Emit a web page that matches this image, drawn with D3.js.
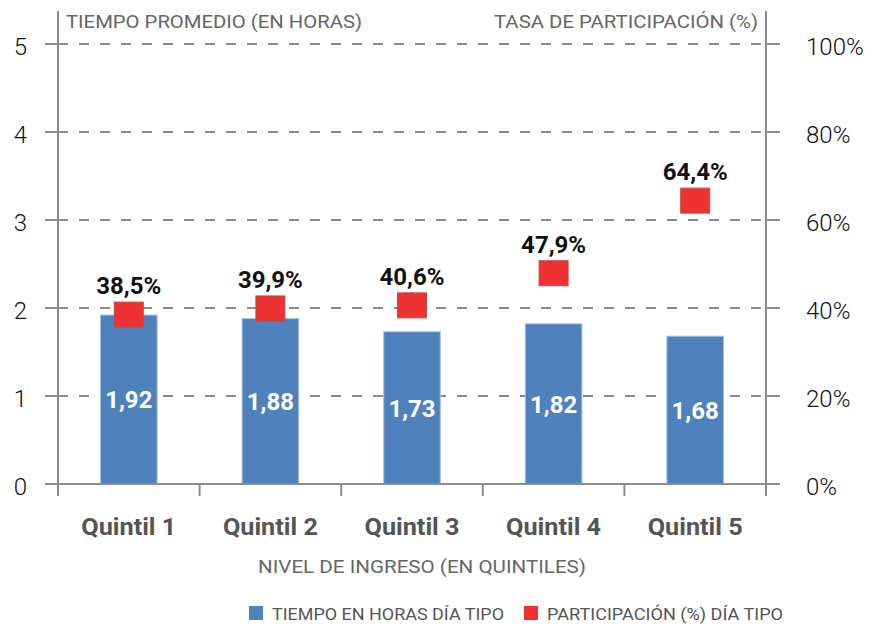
<!DOCTYPE html>
<html>
<head>
<meta charset="utf-8">
<script src="https://cdn.jsdelivr.net/npm/d3@7"></script>
<style>
  body { margin: 0; background: #fff; }
  svg { display: block; font-family: Roboto, "Open Sans", sans-serif; }
</style>
</head>
<body>
<svg id="chart" width="881" height="626"></svg>
<script>
// chart data
const quintiles = ['Quintil 1', 'Quintil 2', 'Quintil 3', 'Quintil 4', 'Quintil 5'];
const hours = [1.92, 1.88, 1.73, 1.82, 1.68];           // tiempo promedio (horas)
const participation = [0.385, 0.399, 0.406, 0.479, 0.644]; // tasa de participación
const leftTicks = [0, 1, 2, 3, 4, 5];
const rightTicks = [0, 0.2, 0.4, 0.6, 0.8, 1];

// layout
const plot = { left: 58, right: 766, top: 44, bottom: 484 };
const colors = { bar: '#4f81bd', square: '#ee3131', squareEdge: '#c24a48', grid: '#666', axis: '#8c8c8c' };

const es = d3.formatLocale({ decimal: ',', thousands: '.', grouping: [3], currency: ['', ' €'] });
const fmtHours = es.format('.2f');
const fmtPct = es.format('.1%');
const fmtTick = es.format('.0%');

const svg = d3.select('#chart');

const scales = {
  x: d3.scaleBand().domain(quintiles).range([plot.left, plot.right]).paddingInner(0.6).paddingOuter(0.3),
  yLeft: d3.scaleLinear().domain([0, 5]).range([plot.bottom, plot.top]),
  yRight: d3.scaleLinear().domain([0, 1]).range([plot.bottom, plot.top])
};

const data = quintiles.map((q, i) => ({ q, h: hours[i], p: participation[i] }));

// gridlines (behind everything)
svg.append('g')
  .selectAll('line')
  .data(leftTicks.filter(d => d > 0))
  .join('line')
  .attr('x1', plot.left).attr('x2', plot.right)
  .attr('y1', d => scales.yLeft(d)).attr('y2', d => scales.yLeft(d))
  .attr('stroke', colors.grid)
  .attr('stroke-width', 1.4)
  .attr('stroke-dasharray', '10,11');

// bars
svg.append('g')
  .selectAll('rect')
  .data(data)
  .join('rect')
  .attr('x', d => scales.x(d.q))
  .attr('y', d => scales.yLeft(d.h))
  .attr('width', scales.x.bandwidth())
  .attr('height', d => scales.yLeft(0) - scales.yLeft(d.h))
  .attr('fill', colors.bar)
  .attr('stroke', '#a9c2e2')
  .attr('stroke-width', 1);

// bar values
svg.append('g')
  .selectAll('text')
  .data(data)
  .join('text')
  .attr('x', d => scales.x(d.q) + scales.x.bandwidth() / 2)
  .attr('y', d => (scales.yLeft(d.h) + scales.yLeft(0)) / 2)
  .attr('dy', '0.36em')
  .attr('text-anchor', 'middle')
  .attr('fill', '#fff')
  .attr('font-weight', 'bold')
  .attr('font-size', 24)
  .text(d => fmtHours(d.h));

// axes
const axisG = svg.append('g').attr('stroke', colors.axis).attr('stroke-width', 2);
axisG.append('line').attr('x1', plot.left).attr('x2', plot.left).attr('y1', 11).attr('y2', plot.bottom);
axisG.append('line').attr('x1', plot.right).attr('x2', plot.right).attr('y1', 11).attr('y2', plot.bottom);
axisG.append('line').attr('x1', plot.left - 13).attr('x2', plot.right + 14).attr('y1', plot.bottom).attr('y2', plot.bottom);

// left ticks
axisG.append('g').selectAll('line')
  .data(leftTicks)
  .join('line')
  .attr('x1', plot.left - 13).attr('x2', plot.left)
  .attr('y1', d => scales.yLeft(d)).attr('y2', d => scales.yLeft(d));

// right ticks
axisG.append('g').selectAll('line')
  .data(rightTicks)
  .join('line')
  .attr('x1', plot.right).attr('x2', plot.right + 14)
  .attr('y1', d => scales.yRight(d)).attr('y2', d => scales.yRight(d));

// bottom ticks at category boundaries
const bounds = quintiles.map(q => scales.x(q) - scales.x.step() * 0.3).concat([plot.right]);
axisG.append('g').selectAll('line')
  .data(bounds)
  .join('line')
  .attr('x1', d => d).attr('x2', d => d)
  .attr('y1', plot.bottom).attr('y2', plot.bottom + 12);

// tick labels
svg.append('g')
  .selectAll('text')
  .data(leftTicks)
  .join('text')
  .attr('x', 27)
  .attr('y', d => scales.yLeft(d) + 2)
  .attr('dy', '0.36em')
  .attr('text-anchor', 'end')
  .attr('font-size', 24)
  .attr('font-weight', 300)
  .attr('fill', '#111')
  .text(d => d);

svg.append('g')
  .selectAll('text')
  .data(rightTicks)
  .join('text')
  .attr('x', 806)
  .attr('y', d => scales.yRight(d) + 2)
  .attr('dy', '0.36em')
  .attr('text-anchor', 'start')
  .attr('font-size', 24)
  .attr('font-weight', 300)
  .attr('fill', '#111')
  .text(d => fmtTick(d));

// category labels
svg.append('g')
  .selectAll('text')
  .data(quintiles)
  .join('text')
  .attr('x', d => scales.x(d) + scales.x.bandwidth() / 2)
  .attr('y', 535)
  .attr('text-anchor', 'middle')
  .attr('font-size', 23)
  .attr('font-weight', 'bold')
  .attr('fill', '#555')
  .attr('textLength', 95)
  .attr('lengthAdjust', 'spacingAndGlyphs')
  .text(d => d);

// axis titles
svg.append('text')
  .attr('x', 66).attr('y', 28)
  .attr('font-size', 19).attr('fill', '#666')
  .attr('textLength', 296).attr('lengthAdjust', 'spacingAndGlyphs')
  .text('TIEMPO PROMEDIO (EN HORAS)');

svg.append('text')
  .attr('x', 494).attr('y', 28)
  .attr('font-size', 19).attr('fill', '#666')
  .attr('textLength', 264).attr('lengthAdjust', 'spacingAndGlyphs')
  .text('TASA DE PARTICIPACIÓN (%)');

svg.append('text')
  .attr('x', 258).attr('y', 573)
  .attr('font-size', 19).attr('fill', '#666')
  .attr('textLength', 328).attr('lengthAdjust', 'spacingAndGlyphs')
  .text('NIVEL DE INGRESO (EN QUINTILES)');

// participation squares
const sqW = 29, sqH = 25;
svg.append('g')
  .selectAll('rect')
  .data(data)
  .join('rect')
  .attr('x', d => scales.x(d.q) + scales.x.bandwidth() / 2 - sqW / 2)
  .attr('y', d => scales.yRight(d.p) - sqH / 2)
  .attr('width', sqW)
  .attr('height', sqH)
  .attr('fill', colors.square)
  .attr('stroke', colors.squareEdge)
  .attr('stroke-width', 1);

svg.append('g')
  .selectAll('text')
  .data(data)
  .join('text')
  .attr('x', d => scales.x(d.q) + scales.x.bandwidth() / 2)
  .attr('y', d => scales.yRight(d.p) - sqH / 2 - 8)
  .attr('text-anchor', 'middle')
  .attr('font-size', 24)
  .attr('font-weight', 'bold')
  .attr('fill', '#111')
  .text(d => fmtPct(d.p));

// legend
const legend = [
  { label: 'TIEMPO EN HORAS DÍA TIPO', color: colors.bar, x: 249, w: 232 },
  { label: 'PARTICIPACIÓN (%) DÍA TIPO', color: colors.square, x: 524, w: 236 }
];
const lg = svg.append('g').selectAll('g').data(legend).join('g');
lg.append('rect')
  .attr('x', d => d.x).attr('y', 606)
  .attr('width', 14).attr('height', 14)
  .attr('fill', d => d.color);
lg.append('text')
  .attr('x', d => d.x + 23).attr('y', 620)
  .attr('font-size', 17).attr('fill', '#555')
  .attr('textLength', d => d.w).attr('lengthAdjust', 'spacingAndGlyphs')
  .text(d => d.label);
</script>
</body>
</html>
